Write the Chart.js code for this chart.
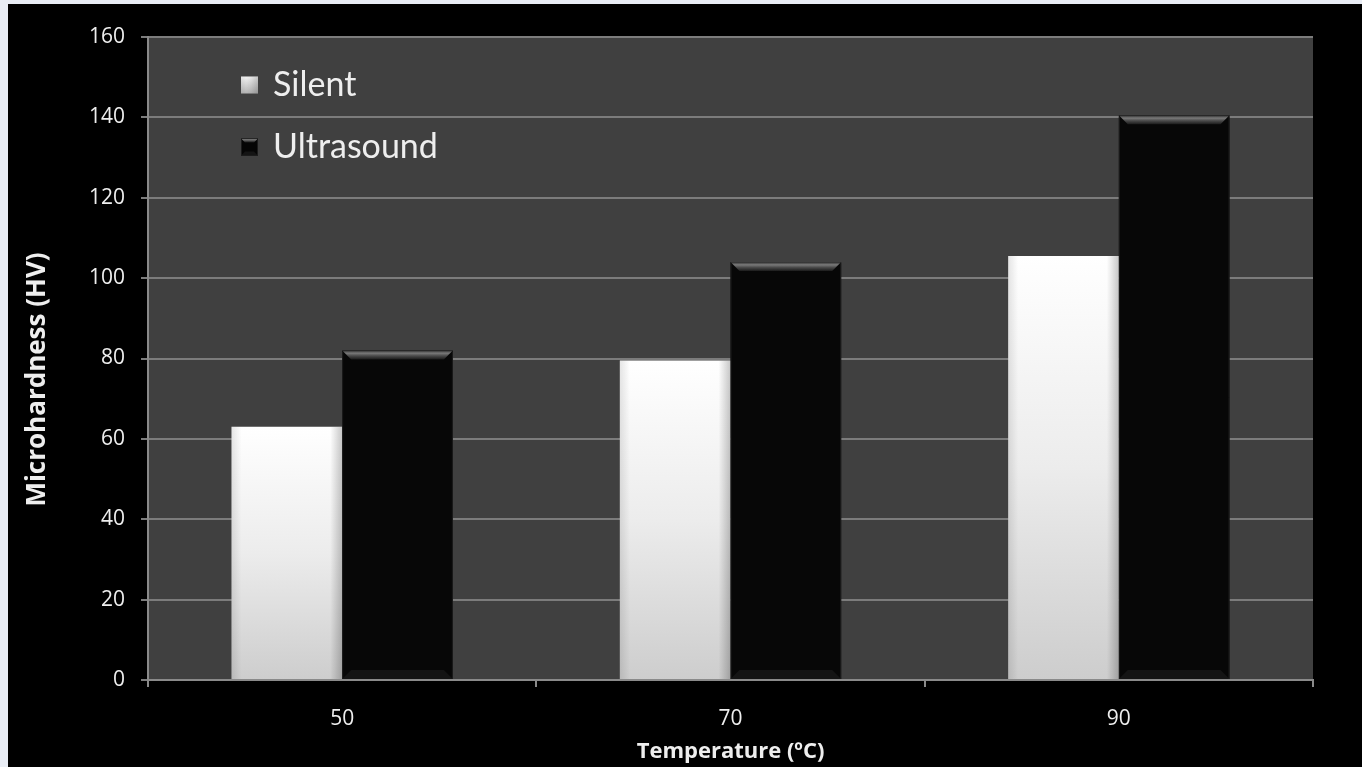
<!DOCTYPE html>
<html>
<head>
<meta charset="utf-8">
<title>Microhardness vs temperature</title>
<script src="https://cdn.jsdelivr.net/npm/chart.js@4.4.1/dist/chart.umd.min.js"></script>
<style>
  html, body { margin: 0; padding: 0; background: #e9edf5; overflow: hidden; }
  #wrap { position: absolute; left: 8px; top: 4px; width: 1354px; height: 763px; background: #000; }
</style>
</head>
<body>
<div id="wrap"><canvas id="hardnessChart"></canvas></div>
<script>
// deposit microhardness (HV) at each bath temperature
const temperatures = ['50', '70', '90'];
const silent = [63, 79.5, 105.5];
const ultrasound = [82, 104, 140.5];
const yMin = 0;
const yMax = 160;
const yStep = 20;
const yTitle = 'Microhardness (HV)';

const textColor = '#eeeeee';
const lineColor = '#8a8a8a';

// white-to-grey fill for the silent bars, one gradient per bar
function silentFill(context) {
    const chart = context.chart;
    if (!chart.chartArea || context.type !== 'data') return '#eeeeee';
    const y = chart.scales.y;
    const top = y.getPixelForValue(silent[context.dataIndex]);
    const g = chart.ctx.createLinearGradient(0, top, 0, y.getPixelForValue(0));
    g.addColorStop(0, '#ffffff');
    g.addColorStop(0.5, '#ececec');
    g.addColorStop(1, '#cdcdcd');
    return g;
}

function shadeSilent(ctx, x0, top, w, bottom) {
    let g = ctx.createLinearGradient(x0, 0, x0 + 10, 0);
    g.addColorStop(0, 'rgba(0,0,0,0.10)');
    g.addColorStop(1, 'rgba(0,0,0,0)');
    ctx.fillStyle = g;
    ctx.fillRect(x0, top, 10, bottom - top);
    g = ctx.createLinearGradient(x0 + w - 12, 0, x0 + w, 0);
    g.addColorStop(0, 'rgba(0,0,0,0)');
    g.addColorStop(1, 'rgba(0,0,0,0.22)');
    ctx.fillStyle = g;
    ctx.fillRect(x0 + w - 12, top, 12, bottom - top);
}

function bevelDark(ctx, x0, top, w, bottom, b) {
    ctx.save();
    // top highlight
    let g = ctx.createLinearGradient(0, top, 0, top + b);
    g.addColorStop(0, '#2a2a2a');
    g.addColorStop(0.3, '#7a7a7a');
    g.addColorStop(0.6, '#4a4a4a');
    g.addColorStop(1, '#1a1a1a');
    ctx.fillStyle = g;
    ctx.beginPath();
    ctx.moveTo(x0, top);
    ctx.lineTo(x0 + w, top);
    ctx.lineTo(x0 + w - b, top + b);
    ctx.lineTo(x0 + b, top + b);
    ctx.closePath();
    ctx.fill();
    // bottom lip
    ctx.fillStyle = '#141414';
    ctx.beginPath();
    ctx.moveTo(x0, bottom);
    ctx.lineTo(x0 + w, bottom);
    ctx.lineTo(x0 + w - b, bottom - b);
    ctx.lineTo(x0 + b, bottom - b);
    ctx.closePath();
    ctx.fill();
    // side edges
    ctx.strokeStyle = '#1c1c1c';
    ctx.lineWidth = 1;
    ctx.beginPath();
    ctx.moveTo(x0 + 0.5, top + 1);
    ctx.lineTo(x0 + 0.5, bottom);
    ctx.moveTo(x0 + w - 0.5, top + 1);
    ctx.lineTo(x0 + w - 0.5, bottom);
    ctx.stroke();
    ctx.restore();
}

const plotBackground = {
    id: 'plotBackground',
    beforeDraw(chart) {
        const {ctx, chartArea: a} = chart;
        ctx.save();
        ctx.fillStyle = '#404040';
        ctx.fillRect(a.left, a.top, a.right - a.left, a.bottom - a.top);
        ctx.restore();
    }
};

const barShading = {
    id: 'barShading',
    afterDatasetsDraw(chart) {
        const ctx = chart.ctx;
        ctx.save();
        chart.getDatasetMeta(0).data.forEach(bar => {
            const w = bar.width;
            shadeSilent(ctx, bar.x - w / 2, bar.y, w, bar.base);
        });
        chart.getDatasetMeta(1).data.forEach(bar => {
            const w = bar.width;
            bevelDark(ctx, bar.x - w / 2, bar.y, w, bar.base, 9);
        });
        ctx.restore();
    }
};

// y title sits a little below the middle of the axis
const sideTitle = {
    id: 'sideTitle',
    afterDraw(chart) {
        const {ctx, chartArea: a} = chart;
        ctx.save();
        ctx.translate(30, (a.top + a.bottom) / 2 + 21);
        ctx.rotate(-Math.PI / 2);
        ctx.fillStyle = textColor;
        ctx.font = 'bold 26px "Open Sans"';
        ctx.textAlign = 'center';
        ctx.textBaseline = 'middle';
        ctx.fillText(yTitle, 0, 0);
        ctx.restore();
    }
};

// legend sits inside the plot, top left
const insideLegend = {
    id: 'insideLegend',
    afterDraw(chart) {
        const {ctx, chartArea: a} = chart;
        const rows = [
            { label: chart.data.datasets[0].label, y: a.top + 48, dark: false },
            { label: chart.data.datasets[1].label, y: a.top + 110, dark: true }
        ];
        ctx.save();
        rows.forEach(r => {
            const x0 = a.left + 93, s = 17, top = r.y - s / 2;
            if (r.dark) {
                ctx.fillStyle = '#050505';
                ctx.fillRect(x0, top, s, s);
                bevelDark(ctx, x0, top, s, top + s, 4);
            } else {
                const g = ctx.createLinearGradient(0, top, 0, top + s);
                g.addColorStop(0, '#ffffff');
                g.addColorStop(1, '#bdbdbd');
                ctx.fillStyle = g;
                ctx.fillRect(x0, top, s, s);
                shadeSilent(ctx, x0, top, s, top + s);
            }
            ctx.fillStyle = textColor;
            ctx.font = '34px Lato';
            ctx.textBaseline = 'middle';
            ctx.textAlign = 'left';
            ctx.fillText(r.label, a.left + 125, r.y);
        });
        ctx.restore();
    }
};

const canvas = document.getElementById('hardnessChart');

new Chart(canvas, {
    type: 'bar',
    data: {
        labels: temperatures,
        datasets: [{
            label: 'Silent',
            data: silent,
            backgroundColor: silentFill,
            borderWidth: 0,
            categoryPercentage: 0.57,
            barPercentage: 1.0
        },
        {
            label: 'Ultrasound',
            data: ultrasound,
            backgroundColor: '#070707',
            borderWidth: 0,
            categoryPercentage: 0.57,
            barPercentage: 1.0
        }]
    },
    options: {
        responsive: true,
        maintainAspectRatio: false,
        animation: false,
        layout: {
            padding: { top: 33, right: 49, left: 0, bottom: 0 }
        },
        scales: {
            x: {
                grid: {
                    drawOnChartArea: false,
                    drawTicks: true,
                    tickLength: 7,
                    color: lineColor,
                    lineWidth: 2
                },
                border: { color: lineColor, width: 2 },
                ticks: {
                    color: textColor,
                    font: { family: 'Open Sans', size: 21 },
                    padding: 19
                },
                title: {
                    display: true,
                    text: 'Temperature (ºC)',
                    color: textColor,
                    font: { family: 'Open Sans', size: 22, weight: 'bold' },
                    padding: { top: 0, bottom: 2 }
                },
                afterFit(scale) { scale.height = 87; }
            },
            y: {
                min: yMin,
                max: yMax,
                grid: {
                    color: '#7c7c7c',
                    lineWidth: 2,
                    tickLength: 7
                },
                border: { color: lineColor, width: 2 },
                ticks: {
                    stepSize: yStep,
                    color: textColor,
                    font: { family: 'Open Sans', size: 21 },
                    padding: 16
                },
                title: { display: false },
                afterFit(scale) { scale.width = 140; }
            }
        },
        plugins: {
            legend: { display: false },
            tooltip: { enabled: false }
        }
    },
    plugins: [plotBackground, barShading, sideTitle, insideLegend]
});
</script>
</body>
</html>
